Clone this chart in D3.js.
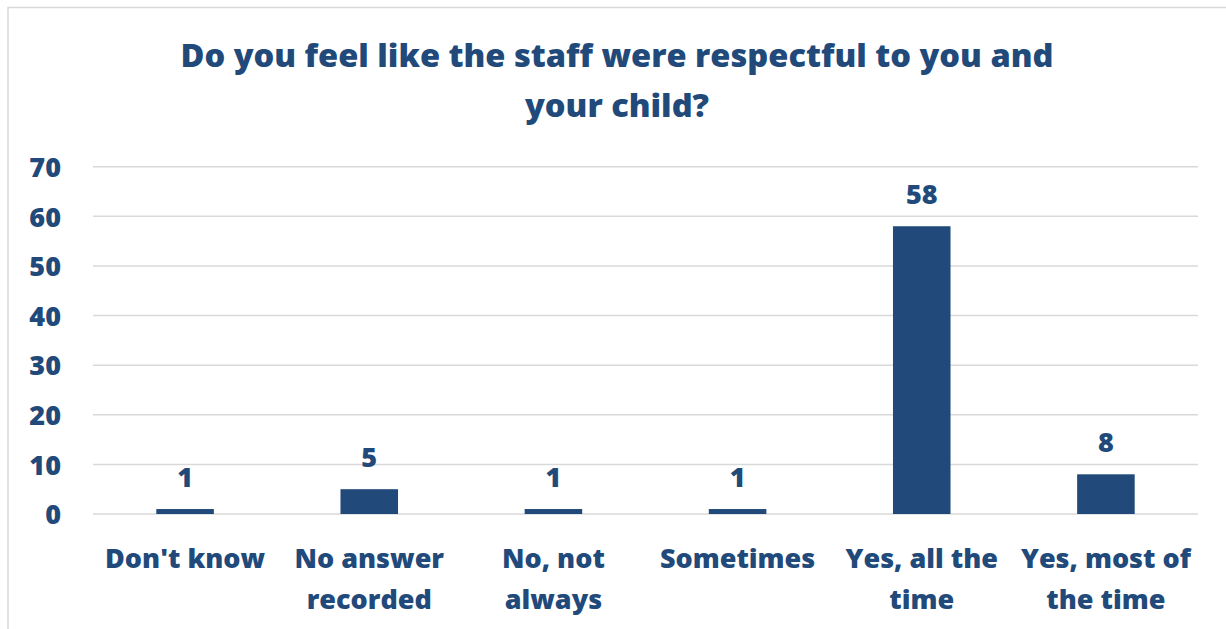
<!DOCTYPE html>
<html>
<head>
<meta charset="utf-8">
<script src="https://cdn.jsdelivr.net/npm/d3@7"></script>
<style>
  html, body { margin: 0; padding: 0; background: #fff; }
  svg { display: block; }
  text { font-family: "Open Sans", "DejaVu Sans", sans-serif; font-weight: 800; fill: #214a7b; }
</style>
</head>
<body>
<svg id="chart" width="1226" height="629"></svg>
<script>
// Survey responses
const categories = [["Don't know"], ["No answer", "recorded"], ["No, not", "always"], ["Sometimes"], ["Yes, all the", "time"], ["Yes, most of", "the time"]];
const counts = [1, 5, 1, 1, 58, 8];
const yTicks = [0, 10, 20, 30, 40, 50, 60, 70];
const titleLines = ["Do you feel like the staff were respectful to you and", "your child?"];

const W = 1226, H = 629;
const margin = { left: 93, right: 28, top: 166.7, bottom: 115 };
const svg = d3.select("#chart");
const color = "#214a7b";

// Outer frame
svg.append("rect")
  .attr("x", 8).attr("y", 7.5)
  .attr("width", W + 20).attr("height", H + 20)
  .attr("fill", "none").attr("stroke", "#d9d9d9").attr("stroke-width", 1.5);

const x = d3.scaleBand()
  .domain(d3.range(categories.length))
  .range([margin.left, W - margin.right])
  .paddingInner(0.6875).paddingOuter(0.34375);

const y = d3.scaleLinear().domain([0, 70]).range([514, margin.top]);

// Gridlines
svg.append("g").selectAll("line").data(yTicks).join("line")
  .attr("x1", margin.left).attr("x2", W - margin.right)
  .attr("y1", d => y(d)).attr("y2", d => y(d))
  .attr("stroke", "#d9d9d9").attr("stroke-width", 1.5);

// Y axis labels
const yAxis = d3.axisLeft(y).tickValues(yTicks).tickSize(0).tickPadding(0);
const gy = svg.append("g").attr("transform", "translate(61,0)").call(yAxis);
gy.select(".domain").remove();
gy.selectAll("text")
  .attr("font-size", 27).attr("font-family", null).attr("fill", color).attr("dy", "0.36em");

// Bars
svg.append("g").selectAll("rect").data(counts).join("rect")
  .attr("x", (d, i) => x(i)).attr("width", x.bandwidth())
  .attr("y", d => y(d)).attr("height", d => y(0) - y(d))
  .attr("fill", color);

// Value labels
svg.append("g").selectAll("text").data(counts).join("text")
  .attr("x", (d, i) => x(i) + x.bandwidth() / 2)
  .attr("y", d => y(d) - 22)
  .attr("text-anchor", "middle").attr("font-size", 27)
  .text(d => d);

// Category labels
const cat = svg.append("g").selectAll("text").data(categories).join("text")
  .attr("x", (d, i) => x(i) + x.bandwidth() / 2)
  .attr("y", 568)
  .attr("text-anchor", "middle").attr("font-size", 27);
cat.selectAll("tspan").data(d => d).join("tspan")
  .attr("x", function () { return d3.select(this.parentNode).attr("x"); })
  .attr("dy", (d, j) => j === 0 ? 0 : 41)
  .text(d => d);

// Title
svg.append("g").selectAll("text").data(titleLines).join("text")
  .attr("x", 617).attr("y", (d, i) => 67 + i * 50)
  .attr("text-anchor", "middle").attr("font-size", 32.6)
  .text(d => d);
</script>
</body>
</html>
